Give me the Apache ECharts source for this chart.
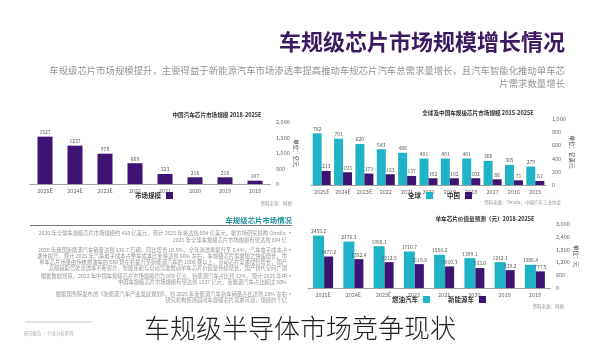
<!DOCTYPE html>
<html>
<head>
<meta charset="utf-8">
<script src="https://cdn.jsdelivr.net/npm/echarts@6/dist/echarts.min.js"></script>
<style>
  html, body { margin: 0; padding: 0; background: #ffffff; }
  #main { width: 600px; height: 344px; }
</style>
</head>
<body>
<div id="main"></div>
<script>
// ---- data ----
const marketYears = ['2018', '2019', '2020', '2021', '2022', '2023E', '2024E', '2025E'];
const marketSize = [107, 216, 216, 323, 669, 978, 1237, 1527];
const marketTicks = { min: 0, max: 2000, interval: 500 };

const globalYears = ['2015', '2016', '2017', '2018', '2019', '2020', '2021', '2022', '2023E', '2024E', '2025E'];
const globalSize = [279, 305, 366, 401, 401, 401, 488, 543, 620, 701, 782];
const chinaSize = [61, 71, 86, 102, 102, 102, 137, 163, 173, 193, 213];
const globalTicks = { min: 0, max: 1000, interval: 200 };

const unitYears = ['2018', '2019', '2020', '2021', '2022', '2023E', '2024E', '2025E'];
const unitHigh = [1088.4, 1212.1, 1399.1, 1554.2, 1710.7, 1958.1, 2176.3, 2455.2];
const unitLow = [777.5, 839.2, 933.6, 1010.3, 1119.8, 1212.5, 1352.4, 1477.2];
const unitTicks = { min: 0, max: 3000, interval: 600 };

const TEAL = '#1fb3c7';
const PURPLE = '#3d1472';
const FONT = '"Noto Sans CJK SC", "Noto Sans", sans-serif';

const chart = echarts.init(document.getElementById('main'), null, { renderer: 'canvas' });

function xAxisFor(gridIndex, data) {
  return {
    type: 'category', gridIndex, data, inverse: true,
    axisTick: { show: false },
    axisLine: { lineStyle: { color: '#a0a0a0', width: 1 } },
    axisLabel: { fontSize: 5.5, color: '#666', margin: 4, fontFamily: FONT }
  };
}
function yAxisFor(gridIndex, t, name, gap) {
  return {
    type: 'value', gridIndex, position: 'right', min: t.min, max: t.max, interval: t.interval,
    splitLine: { show: false }, axisLine: { show: false }, axisTick: { show: false },
    axisLabel: { fontSize: 5.5, color: '#666', margin: 6, fontFamily: FONT },
    name, nameLocation: 'middle', nameRotate: -90, nameGap: gap,
    nameTextStyle: { fontSize: 5.5, color: '#444', fontFamily: FONT }
  };
}
const valueLabel = { show: true, position: 'top', distance: 2, fontSize: 5, color: '#555', fontFamily: FONT };

function txt(x, y, text, size, color, align, weight, styleExtra) {
  return {
    type: 'text', x, y, silent: true,
    style: Object.assign({ text, fontSize: size, fill: color, align: align || 'left', verticalAlign: 'middle',
             fontWeight: weight || 'normal', fontFamily: FONT }, styleExtra || {})
  };
}

// notes block (bottom left): [y, line, starts a bullet, max width]
const notes = [
  [233, '2020 年全球车规级芯片市场规模约 460 亿美元，预计 2025 年将达到 804 亿美元，据市场研究机构 Omdia 预测，全球', true, 252],
  [240, '2025 年全球车规级芯片市场规模有望达到 804 亿美元。', false, 121],
  [250, '2020 年我国新能源汽车销量达到 136.7 万辆，同比增长 10.9%，全年渗透率提升至 5.4%，汽车电子成本占比逐步提升', true, 252],
  [256, '逐步提升，预计 2025 年汽车电子成本占整车成本比重将达到 60% 左右，车规级芯片需求随之快速增长，市场空间持续扩大', false, 252],
  [262, '单车芯片用量由传统燃油车的 580 颗左右提升至新能源汽车的 1000 颗以上，带动芯片需求成倍增长，国产替代空间广阔', false, 252],
  [268, '高级辅助驾驶渗透率不断提升，智能座舱与自动驾驶推动单车芯片价值量持续增长，国产替代空间广阔，产业链加速成熟', false, 244],
  [276, '根据数据测算，2022 年中国车规级芯片市场规模约为 669 亿元，新能源汽车占比约 32%，预计 2025 年中国市场', true, 252],
  [282, '中国车规级芯片市场规模有望达到 1527 亿元，新能源汽车占比超过 50%', false, 174],
  [294, '根据国务院发布的《新能源汽车产业发展规划》，到 2025 年新能源汽车新车销量占比达到 20% 左右，研究机构', true, 237],
  [300, '研究机构预测届时车规级芯片需求可观，规模约千亿', false, 124]
];

const graphics = [
  // page heading + intro
  txt(565, 42, '车规级芯片市场规模增长情况', 22, '#3b1a62', 'right', 'bold'),
  txt(565, 70, '车规级芯片市场规模提升，主要得益于新能源汽车市场渗透率提高推动车规芯片汽车总需求量增长，且汽车智能化推动单车芯', 9.4, '#939393', 'right'),
  txt(565, 83, '片需求数量增长', 9.4, '#939393', 'right'),
  // chart titles
  txt(217, 115, '中国汽车芯片市场规模 2018-2025E', 5.6, '#333', 'center', 'bold'),
  txt(478, 113, '全球及中国车规级芯片市场规模 2015-2025E', 5.6, '#333', 'center', 'bold'),
  txt(485, 219, '单车芯片价值量预测（元）2018-2025E', 5.6, '#333', 'center', 'bold'),
  // source notes
  txt(292, 203, '资料来源：网络', 4.5, '#999', 'right'),
  txt(561, 202, '资料来源：Omdia，中国汽车工业协会', 4.5, '#999', 'right'),
  txt(564, 306, '资料来源：网络', 4.5, '#999', 'right'),
  // notes block heading
  txt(292, 220, '车规级芯片市场情况', 7.4, '#1d8ea0', 'right', 'bold'),
  { type: 'line', silent: true, shape: { x1: 30, y1: 225.5, x2: 292, y2: 225.5 }, style: { stroke: '#555', lineWidth: 0.8 } },
  // footer rule
  { type: 'line', silent: true, shape: { x1: 25, y1: 322, x2: 92, y2: 322 }, style: { stroke: '#bbb', lineWidth: 0.8 } },
  txt(24, 333, '研究报告 · 行业分析系列', 4.3, '#aaa', 'left'),
  // caption
  txt(300, 328, '车规级半导体市场竞争现状', 26, '#1f1f1f', 'center', '300')
];
notes.forEach(([y, line, bullet, w]) => {
  graphics.push(txt(287, y, line, 5.3, '#959595', 'right', 'normal', { width: w, overflow: 'truncate', ellipsis: '' }));
  if (bullet) graphics.push(txt(293, y, '•', 6, '#777', 'right'));
});

const legendText = { fontSize: 6.5, color: '#333', fontWeight: 'bold', fontFamily: FONT };
const option = {
  backgroundColor: '#ffffff',
  animation: false,
  textStyle: { fontFamily: FONT },
  grid: [
    { left: 30, width: 240, top: 122, height: 62 },
    { left: 311, width: 235, top: 119, height: 66 },
    { left: 308, width: 242, top: 224, height: 64 }
  ],
  xAxis: [xAxisFor(0, marketYears), xAxisFor(1, globalYears), xAxisFor(2, unitYears)],
  yAxis: [
    yAxisFor(0, marketTicks, '单位：亿元', 14),
    yAxisFor(1, globalTicks, '单位：亿美元', 14),
    yAxisFor(2, unitTicks, '单位：元', 20)
  ],
  legend: [
    { data: ['市场规模'], left: 135, top: 192, align: 'right', itemWidth: 7, itemHeight: 7, icon: 'rect',
      textStyle: legendText, itemGap: 14, padding: 0 },
    { data: ['全球', '中国'], left: 408, top: 192, align: 'right', itemWidth: 7, itemHeight: 7, icon: 'rect',
      textStyle: legendText, itemGap: 14, padding: 0 },
    { data: ['燃油汽车', '新能源车'], left: 392, top: 296, align: 'right', itemWidth: 7, itemHeight: 7, icon: 'rect',
      textStyle: legendText, itemGap: 18, padding: 0 }
  ],
  series: [
    { name: '市场规模', type: 'bar', xAxisIndex: 0, yAxisIndex: 0, data: marketSize, barWidth: 15,
      itemStyle: { color: PURPLE }, label: valueLabel },
    { name: '全球', type: 'bar', xAxisIndex: 1, yAxisIndex: 1, data: globalSize, barWidth: 9, barGap: '0%',
      itemStyle: { color: TEAL }, label: valueLabel },
    { name: '中国', type: 'bar', xAxisIndex: 1, yAxisIndex: 1, data: chinaSize, barWidth: 9, barGap: '0%',
      itemStyle: { color: PURPLE }, label: valueLabel },
    { name: '燃油汽车', type: 'bar', xAxisIndex: 2, yAxisIndex: 2, data: unitHigh, barWidth: 11, barGap: '0%',
      itemStyle: { color: TEAL }, label: valueLabel },
    { name: '新能源车', type: 'bar', xAxisIndex: 2, yAxisIndex: 2, data: unitLow, barWidth: 9, barGap: '0%',
      itemStyle: { color: PURPLE }, label: valueLabel }
  ],
  graphic: graphics
};
chart.setOption(option);
</script>
</body>
</html>
